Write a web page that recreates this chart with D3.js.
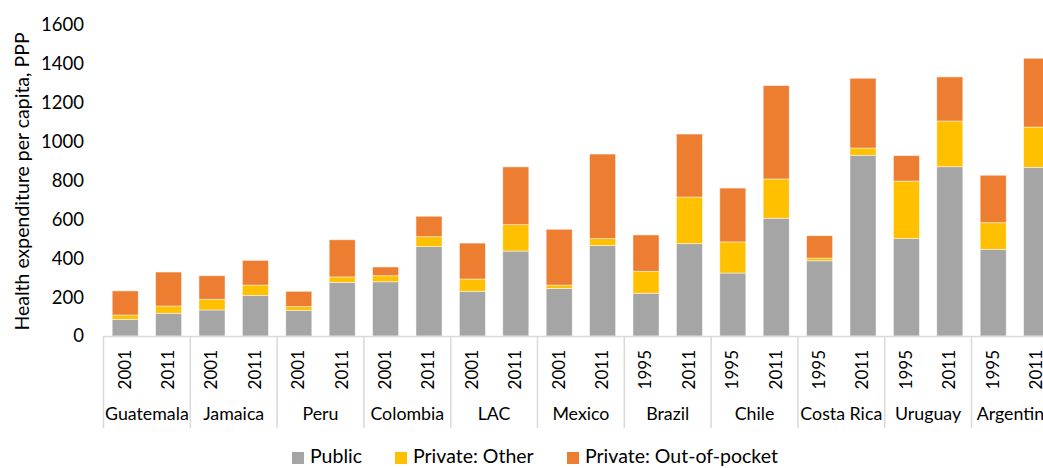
<!DOCTYPE html>
<html>
<head>
<meta charset="utf-8">
<script src="https://cdn.jsdelivr.net/npm/d3@7"></script>
<style>
  html, body { margin: 0; padding: 0; background: #fff; }
  svg { display: block; }
  text { font-family: Lato, "Open Sans", sans-serif; fill: #000; }
</style>
</head>
<body>
<svg id="chart" width="1043" height="468"></svg>
<script>
// ---- data ----
const countries = ["Guatemala", "Jamaica", "Peru", "Colombia", "LAC", "Mexico", "Brazil", "Chile", "Costa Rica", "Uruguay", "Argentina"];
const years = [
  ["2001", "2011"], ["2001", "2011"], ["2001", "2011"], ["2001", "2011"], ["2001", "2011"],
  ["2001", "2011"], ["1995", "2011"], ["1995", "2011"], ["1995", "2011"], ["1995", "2011"], ["1995", "2011"]
];
const publicVals = [86, 117, 134, 209, 132, 276, 279, 460, 230, 437, 245, 465, 220, 475, 324, 606, 387, 930, 501, 871, 446, 868];
const privateOther = [22, 37, 55, 53, 19, 28, 31, 51, 63, 136, 17, 36, 113, 240, 160, 202, 14, 37, 296, 235, 137, 207];
const outOfPocket = [124, 175, 121, 127, 79, 191, 45, 105, 185, 297, 287, 435, 187, 324, 277, 480, 115, 359, 131, 227, 244, 354];
const seriesNames = ["Public", "Private: Other", "Private: Out-of-pocket"];
const seriesColors = ["#A5A5A5", "#FFC000", "#ED7D31"];
const yTicks = [0, 200, 400, 600, 800, 1000, 1200, 1400, 1600];
const yTitle = "Health expenditure per capita, PPP";

// ---- build rows ----
const rows = [];
countries.forEach((c, i) => {
  years[i].forEach((yr, j) => {
    const k = i * 2 + j;
    rows.push({ id: c + "|" + yr, country: c, year: yr, pub: publicVals[k], other: privateOther[k], oop: outOfPocket[k] });
  });
});

const svg = d3.select("#chart");
const x0 = 103.5, x1 = 1058.3, yTop = 25, yBot = 336;

const x = d3.scaleBand().domain(rows.map(d => d.id)).range([x0, x1]).paddingInner(0.4).paddingOuter(0.2);
const y = d3.scaleLinear().domain([0, 1600]).range([yBot, yTop]);

const stack = d3.stack().keys(["pub", "other", "oop"]);
const stacked = stack(rows);

// bars
svg.append("g").selectAll("g").data(stacked).join("g")
  .attr("fill", (d, i) => seriesColors[i])
  .selectAll("rect").data(d => d).join("rect")
  .attr("x", d => x(d.data.id))
  .attr("width", x.bandwidth())
  .attr("y", d => y(d[1]))
  .attr("height", d => y(d[0]) - y(d[1]))
  .attr("stroke", "#fff")
  .attr("stroke-opacity", 0.6)
  .attr("stroke-width", 0.8);

// y axis labels
const yAxis = d3.axisLeft(y).tickValues(yTicks).tickFormat(d3.format("d")).tickSize(0).tickPadding(0);
const yg = svg.append("g").attr("transform", "translate(84,0)").call(yAxis);
yg.select(".domain").remove();
yg.selectAll("text").style("font-size", "18.5px").style("font-family", "Lato, sans-serif").attr("fill", "#000");

// y title
svg.append("text")
  .attr("transform", `translate(24,${(yTop + yBot) / 2 + 1}) rotate(-90)`)
  .attr("text-anchor", "middle")
  .attr("dominant-baseline", "middle")
  .style("font-size", "19.5px")
  .text(yTitle);

// baseline
const step = x.step();
svg.append("line")
  .attr("x1", x0).attr("x2", 1043)
  .attr("y1", yBot + 0.5).attr("y2", yBot + 0.5)
  .attr("stroke", "#D9D9D9").attr("stroke-width", 1.5);

// group separators
const sepXs = countries.map((c, i) => x(rows[i * 2].id) - step * 0.2);
sepXs.push(x(rows[rows.length - 1].id) + x.bandwidth() + step * 0.2);
svg.append("g").selectAll("line").data(sepXs).join("line")
  .attr("x1", d => d).attr("x2", d => d)
  .attr("y1", yBot).attr("y2", 428)
  .attr("stroke", "#D9D9D9").attr("stroke-width", 1.5);

// year labels
svg.append("g").selectAll("text").data(rows).join("text")
  .attr("transform", d => `translate(${x(d.id) + x.bandwidth() / 2 + 1},350) rotate(-90)`)
  .attr("text-anchor", "end")
  .attr("dominant-baseline", "middle")
  .style("font-size", "17px")
  .text(d => d.year);

// country labels
svg.append("g").selectAll("text").data(countries).join("text")
  .attr("x", (d, i) => (x(rows[i * 2].id) + x(rows[i * 2 + 1].id) + x.bandwidth()) / 2)
  .attr("y", 415)
  .attr("text-anchor", "middle")
  .attr("dominant-baseline", "middle")
  .style("font-size", "17.8px")
  .text(d => d);

// legend
const legendX = [292, 395, 567];
const lg = svg.append("g").selectAll("g").data(seriesNames).join("g")
  .attr("transform", (d, i) => `translate(${legendX[i]},452)`);
lg.append("rect").attr("width", 12).attr("height", 12).attr("fill", (d, i) => seriesColors[i]);
lg.append("text").attr("x", 18).attr("y", 6).attr("dominant-baseline", "middle")
  .style("font-size", "19.5px").text(d => d);
</script>
</body>
</html>
